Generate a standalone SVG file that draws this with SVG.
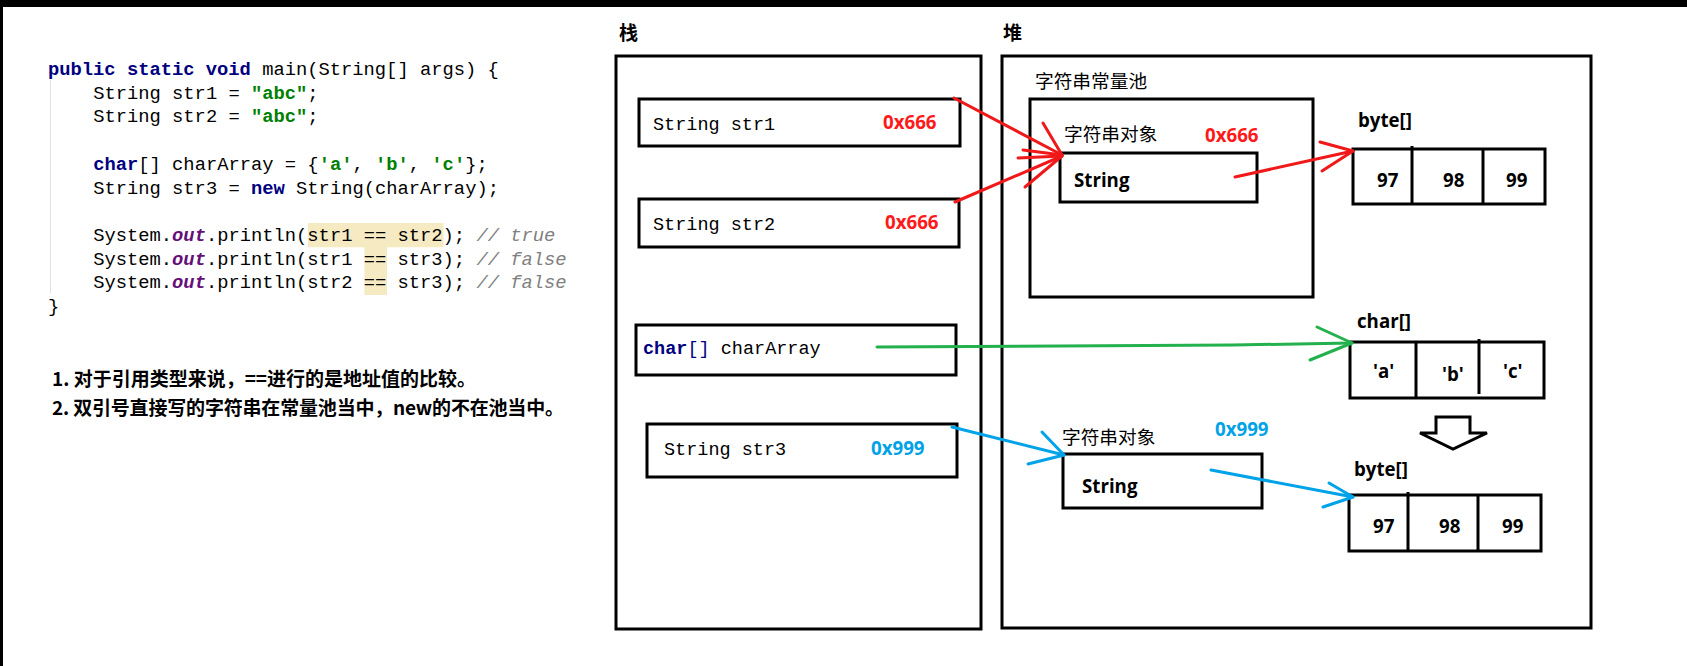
<svg xmlns="http://www.w3.org/2000/svg" width="1687" height="666" viewBox="0 0 1687 666">
<style>
.code{font-family:"Liberation Mono","DejaVu Sans Mono",monospace;font-size:18.8px;fill:#000;white-space:pre}
.kw{fill:#000080;font-weight:bold}
.str{fill:#008000;font-weight:bold}
.fld{fill:#660E7A;font-weight:bold;font-style:italic}
.cmt{fill:#808080;font-style:italic}
.note{font-family:"Noto Sans CJK SC","Noto Sans",sans-serif;font-size:19px;font-weight:bold;fill:#000}
.mono{font-family:"Liberation Mono","DejaVu Sans Mono",monospace;font-size:18.5px;fill:#000;white-space:pre}
.cjk{font-family:"Noto Sans CJK SC",sans-serif;font-size:18.7px;fill:#000}
.cjkb{font-family:"Noto Sans CJK SC",sans-serif;font-size:19px;font-weight:bold;fill:#000}
.lbl{font-family:"Open Sans","Noto Sans",sans-serif;font-size:18.7px;font-weight:bold;fill:#000}
.red{fill:#FF1A1A}
.blue{fill:#00A2E8}
.box{fill:none;stroke:#000;stroke-width:3}
.ln{fill:none;stroke-width:3;stroke-linecap:round;stroke-linejoin:round}
.r{stroke:#F01818}
.g{stroke:#22B14C}
.b{stroke:#00A2E8}
</style>
<rect x="0" y="0" width="1687" height="666" fill="#fff"/>
<rect x="0" y="0" width="1687" height="7" fill="#000"/>
<rect x="0" y="0" width="3" height="666" fill="#000"/>

<g id="code">
<rect x="307.9" y="223" width="135.6" height="24.3" fill="#F5EAC2"/>
<rect x="364.4" y="247" width="22.6" height="48" fill="#F5EAC2"/>
<line x1="50.5" y1="80" x2="50.5" y2="293" stroke="#e2e2e2" stroke-width="1"/>
<text class="code" x="48" y="75"><tspan class="kw">public static void</tspan> main(String[] args) {</text>
<text class="code" x="93.2" y="98.7">String str1 = <tspan class="str">"abc"</tspan>;</text>
<text class="code" x="93.2" y="122.4">String str2 = <tspan class="str">"abc"</tspan>;</text>
<text class="code" x="93.2" y="169.8"><tspan class="kw">char</tspan>[] charArray = {<tspan class="str">'a'</tspan>, <tspan class="str">'b'</tspan>, <tspan class="str">'c'</tspan>};</text>
<text class="code" x="93.2" y="193.5">String str3 = <tspan class="kw">new</tspan> String(charArray);</text>
<text class="code" x="93.2" y="240.9">System.<tspan class="fld">out</tspan>.println(str1 == str2); <tspan class="cmt">// true</tspan></text>
<text class="code" x="93.2" y="264.6">System.<tspan class="fld">out</tspan>.println(str1 == str3); <tspan class="cmt">// false</tspan></text>
<text class="code" x="93.2" y="288.3">System.<tspan class="fld">out</tspan>.println(str2 == str3); <tspan class="cmt">// false</tspan></text>
<text class="code" x="48" y="312">}</text>
</g>

<g id="notes">
<text class="note" x="52" y="386" textLength="424" lengthAdjust="spacing">1. 对于引用类型来说，==进行的是地址值的比较。</text>
<text class="note" x="52" y="415" textLength="512" lengthAdjust="spacing">2. 双引号直接写的字符串在常量池当中，new的不在池当中。</text>
</g>

<g id="stack">
<text class="cjkb" x="619" y="40">栈</text>
<rect class="box" x="616" y="56" width="365" height="573"/>
</g>
<g id="str1">
<rect class="box" x="639" y="99" width="321" height="47"/>
<text class="mono" x="653" y="130">String str1</text>
<text class="lbl red" x="883" y="129">0x666</text>
</g>
<g id="str2">
<rect class="box" x="639" y="199" width="320" height="48"/>
<text class="mono" x="653" y="230">String str2</text>
<text class="lbl red" x="885" y="229">0x666</text>
</g>
<g id="charArray">
<rect class="box" x="636" y="325" width="320" height="50"/>
<text class="mono" x="643" y="354"><tspan class="kw">char</tspan><tspan fill="#000080">[]</tspan> charArray</text>
</g>
<g id="str3">
<rect class="box" x="647" y="424" width="310" height="53"/>
<text class="mono" x="664" y="455">String str3</text>
<text class="lbl blue" x="871" y="455">0x999</text>
</g>

<g id="heap">
<text class="cjkb" x="1003" y="40">堆</text>
<rect class="box" x="1002" y="56" width="589" height="572"/>
</g>
<g id="pool">
<rect class="box" x="1030" y="99" width="283" height="198"/>
<text class="cjk" x="1035" y="88">字符串常量池</text>
</g>
<g id="stringObj1">
<text class="cjk" x="1064" y="141">字符串对象</text>
<text class="lbl red" x="1205" y="142">0x666</text>
<rect class="box" x="1060" y="153" width="197" height="49"/>
<text class="lbl" x="1074" y="187">String</text>
</g>
<g id="byteArray1">
<text class="lbl" x="1358" y="127">byte[]</text>
<rect class="box" x="1353" y="149" width="192" height="55"/>
<line class="box" x1="1412" y1="146" x2="1412" y2="204"/>
<line class="box" x1="1483" y1="149" x2="1483" y2="204"/>
<text class="lbl" x="1377" y="187">97</text>
<text class="lbl" x="1443" y="187">98</text>
<text class="lbl" x="1506" y="187">99</text>
</g>
<g id="charArrayObj">
<text class="lbl" x="1357" y="328">char[]</text>
<rect class="box" x="1350" y="342" width="194" height="56"/>
<line class="box" x1="1416" y1="342" x2="1416" y2="398"/>
<line class="box" x1="1479" y1="339" x2="1479" y2="394"/>
<text class="lbl" x="1373" y="378">'a'</text>
<text class="lbl" x="1442" y="381">'b'</text>
<text class="lbl" x="1503" y="378">'c'</text>
</g>
<g id="convertArrow">
<polygon class="box" points="1436,417 1470,417 1470,433 1487,433 1453,449 1420,433 1436,433"/>
</g>
<g id="stringObj2">
<text class="cjk" x="1062" y="444">字符串对象</text>
<text class="lbl blue" x="1215" y="436">0x999</text>
<rect class="box" x="1063" y="454" width="199" height="54"/>
<text class="lbl" x="1082" y="493">String</text>
</g>
<g id="byteArray2">
<text class="lbl" x="1354" y="476">byte[]</text>
<rect class="box" x="1349" y="495" width="192" height="56"/>
<line class="box" x1="1408" y1="492" x2="1408" y2="551"/>
<line class="box" x1="1478" y1="495" x2="1478" y2="551"/>
<text class="lbl" x="1373" y="533">97</text>
<text class="lbl" x="1439" y="533">98</text>
<text class="lbl" x="1502" y="533">99</text>
</g>

<g id="connectors">
<polyline class="ln r" points="954,98 1062,155"/>
<polyline class="ln r" points="1043,123 1062,155"/>
<polyline class="ln r" points="1023,150 1062,155"/>
<polyline class="ln r" points="1018,158 1062,156"/>
<polyline class="ln r" points="1025,187 1062,156"/>
<polyline class="ln r" points="955,202 1062,156"/>
<polyline class="ln r" points="1235,177 1353,151"/>
<polyline class="ln r" points="1320,142 1353,151 1322,171"/>
<polyline class="ln g" points="877,347 1233,345 1352,343"/>
<polyline class="ln g" points="1317,327 1352,343 1310,360"/>
<polyline class="ln b" points="952,427 1064,455"/>
<polyline class="ln b" points="1042,432 1064,455 1028,464"/>
<polyline class="ln b" points="1211,470 1353,497"/>
<polyline class="ln b" points="1329,483 1353,497 1323,507"/>
</g>
</svg>
